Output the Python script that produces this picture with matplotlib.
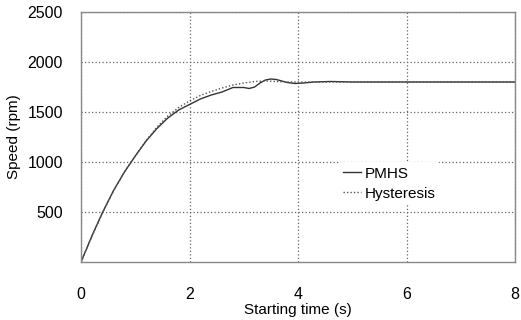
import matplotlib.pyplot as plt

# time (s) and speed (rpm)
t_pmhs = [0, 0.2, 0.4, 0.6, 0.8, 1.0, 1.2, 1.4, 1.6, 1.8, 2.0, 2.2, 2.4, 2.6,
          2.8, 3.0, 3.1, 3.2, 3.3, 3.4, 3.5, 3.6, 3.7, 3.8, 3.95, 4.1, 4.3,
          4.6, 5.0, 8.0]
speed_pmhs = [0, 260, 500, 715, 900, 1060, 1210, 1335, 1440, 1520, 1575, 1630,
              1670, 1700, 1745, 1745, 1735, 1750, 1790, 1820, 1830, 1825, 1810,
              1795, 1785, 1790, 1800, 1805, 1800, 1800]

t_hyst = [0, 0.2, 0.4, 0.6, 0.8, 1.0, 1.2, 1.4, 1.6, 1.8, 2.0, 2.2, 2.4, 2.6,
          2.8, 3.0, 3.2, 3.4, 3.6, 3.8, 8.0]
speed_hyst = [0, 255, 495, 712, 900, 1060, 1215, 1350, 1460, 1545, 1610, 1665,
              1705, 1740, 1770, 1790, 1805, 1810, 1805, 1800, 1800]

xticks = [0, 2, 4, 6, 8]
yticks = [500, 1000, 1500, 2000, 2500]

plt.rcParams['font.family'] = ['Liberation Sans', 'DejaVu Sans']

fig = plt.figure(figsize=(5.21, 3.2), dpi=100)
ax = fig.add_axes([0.1555, 0.18125, 0.833, 0.78125])

ax.plot(t_pmhs, speed_pmhs, color='#333333', lw=1.0, label='PMHS')
ax.plot(t_hyst, speed_hyst, color='#555555', lw=1.0, ls=(0, (1, 1.5)),
        label='Hysteresis')

ax.set_xlim(0, 8)
ax.set_ylim(0, 2500)
ax.set_xticks(xticks)
ax.set_yticks(yticks)
ax.tick_params(length=0, labelsize=11.5)
ax.tick_params(axis='x', pad=18)
ax.tick_params(axis='y', pad=13)
ax.grid(True, color='#666666', ls=(0, (1, 1.8)), lw=0.9)
for s in ax.spines.values():
    s.set_color('#888888')
    s.set_linewidth(1.0)

ax.set_xlabel('Starting time (s)', fontsize=11, labelpad=1)
ax.set_ylabel('Speed (rpm)', fontsize=11, labelpad=5)

leg = ax.legend(loc='upper left', bbox_to_anchor=(0.575, 0.43), frameon=True,
                fontsize=11, handlelength=1.2, handletextpad=0.25,
                borderpad=0.3, labelspacing=0.4)
leg.get_frame().set_edgecolor('none')
leg.get_frame().set_facecolor('white')
leg.get_frame().set_alpha(1)

fig.savefig('out.png', dpi=100)
